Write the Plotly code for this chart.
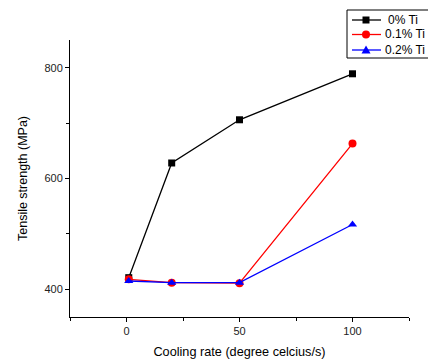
import plotly.graph_objects as go

cooling_rate = [1, 20, 50, 100]
ti_0 = [421, 628, 706, 789]
ti_01 = [418, 412, 411, 663]
ti_02 = [415, 412, 412, 517]

series = [
    ("0% Ti", ti_0, "black", "square"),
    ("0.1% Ti", ti_01, "red", "circle"),
    ("0.2% Ti", ti_02, "blue", "triangle-up"),
]

W, H = 428, 359
ML, MR, MT, MB = 70, 19, 40, 42
PW, PH = W - ML - MR, H - MT - MB


def px_x(px):
    return (px - ML) / PW


def px_y(py):
    return (H - MB - py) / PH


fig = go.Figure()
for name, vals, color, sym in series:
    fig.add_trace(go.Scatter(
        x=cooling_rate, y=vals, name=name, mode="lines+markers",
        line=dict(color=color, width=1.3),
        marker=dict(symbol=sym, color=color, size=8 if sym != "square" else 7),
        showlegend=False,
    ))

# compact boxed legend in the top-right corner
shapes = [dict(type="rect", xref="paper", yref="paper",
               x0=px_x(347), x1=px_x(440), y0=px_y(58), y1=px_y(10),
               line=dict(color="black", width=1), fillcolor="white", layer="above")]
annotations = []
rows = [20, 34.5, 50]
for (name, _, color, sym), ry in zip(series, rows):
    shapes.append(dict(type="line", xref="paper", yref="paper",
                       x0=px_x(352), x1=px_x(381), y0=px_y(ry), y1=px_y(ry),
                       line=dict(color=color, width=1.3), layer="above"))
    cx = 366
    if sym == "square":
        shapes.append(dict(type="rect", xref="paper", yref="paper",
                           x0=px_x(cx - 3.5), x1=px_x(cx + 3.5), y0=px_y(ry + 3.5), y1=px_y(ry - 3.5),
                           line=dict(width=0), fillcolor=color, layer="above"))
    elif sym == "circle":
        shapes.append(dict(type="circle", xref="paper", yref="paper",
                           x0=px_x(cx - 4), x1=px_x(cx + 4), y0=px_y(ry + 4), y1=px_y(ry - 4),
                           line=dict(width=0), fillcolor=color, layer="above"))
    else:
        path = "M {},{} L {},{} L {},{} Z".format(
            px_x(cx - 4.5), px_y(ry + 3.5), px_x(cx + 4.5), px_y(ry + 3.5), px_x(cx), px_y(ry - 4.5))
        shapes.append(dict(type="path", xref="paper", yref="paper", path=path,
                           line=dict(width=0), fillcolor=color, layer="above"))
    annotations.append(dict(xref="paper", yref="paper", x=px_x(386 if sym == "square" else 383),
                            y=px_y(ry), text=name, showarrow=False, xanchor="left", yanchor="middle",
                            font=dict(size=12, color="black")))

axis_common = dict(
    showgrid=False, zeroline=False, showline=True, linecolor="black", linewidth=1,
    ticks="outside", ticklen=4, tickcolor="black", tickfont=dict(size=11, color="#222"),
    mirror=False,
)

fig.update_layout(
    width=W, height=H,
    margin=dict(l=ML, r=MR, t=MT, b=MB, autoexpand=False),
    paper_bgcolor="white", plot_bgcolor="white",
    font=dict(family="Liberation Sans, Arial, sans-serif", color="black"),
    xaxis=dict(range=[-25, 125], tickvals=[0, 50, 100],
               minor=dict(tickvals=[-25, 25, 75, 125], ticks="outside", ticklen=3, tickcolor="black"),
               title=dict(text="Cooling rate (degree celcius/s)", font=dict(size=12.7), standoff=10),
               **axis_common),
    yaxis=dict(range=[350, 850], tickvals=[400, 600, 800],
               minor=dict(tickvals=[500, 700], ticks="outside", ticklen=3, tickcolor="black"),
               title=dict(text="Tensile strength (MPa)", font=dict(size=12.5), standoff=14),
               **axis_common),
    shapes=shapes,
    annotations=annotations,
    showlegend=False,
)

fig.write_html("out.html")
